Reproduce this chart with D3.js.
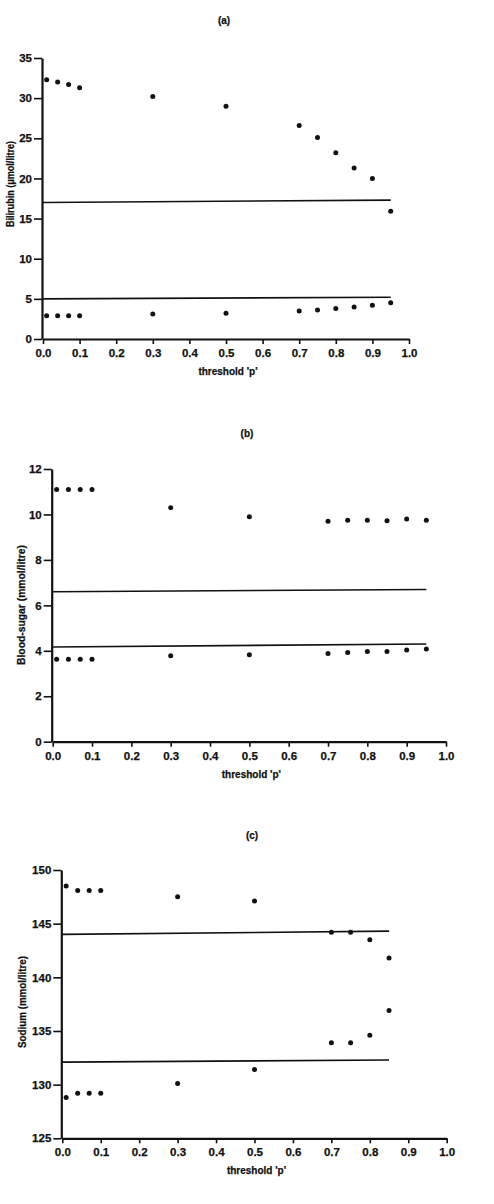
<!DOCTYPE html>
<html>
<head>
<meta charset="utf-8">
<script src="https://cdn.jsdelivr.net/npm/d3@7"></script>
<style>
  body { margin: 0; background: #fff; }
  svg { display: block; }
  text { font-family: "Liberation Sans", Arial, sans-serif; font-weight: bold; fill: #111; stroke: #111; stroke-width: 0.25px; }
</style>
</head>
<body>
<div id="vis"></div>
<script>
const WIDTH = 494;
const HEIGHT = 1204;

// threshold p values
const P_AB = [0.01, 0.04, 0.07, 0.1, 0.3, 0.5, 0.7, 0.75, 0.8, 0.85, 0.9, 0.95];
const P_C = [0.01, 0.04, 0.07, 0.1, 0.3, 0.5, 0.7, 0.75, 0.8, 0.85];

// (a) bilirubin
const BILI_UPPER = [32.3, 32.0, 31.7, 31.3, 30.2, 29.0, 26.6, 25.1, 23.2, 21.3, 20.0, 15.9];
const BILI_LOWER = [2.9, 2.9, 2.9, 2.9, 3.1, 3.2, 3.5, 3.6, 3.8, 4.0, 4.2, 4.5];
const BILI_LIMITS = [[[0, 17.0], [0.95, 17.3]], [[0, 5.0], [0.95, 5.2]]];
const BILI_TICKS = [0, 5, 10, 15, 20, 25, 30, 35];

// (b) blood-sugar
const SUGAR_UPPER = [11.1, 11.1, 11.1, 11.1, 10.3, 9.9, 9.7, 9.75, 9.75, 9.72, 9.8, 9.75];
const SUGAR_LOWER = [3.63, 3.63, 3.63, 3.63, 3.78, 3.83, 3.88, 3.92, 3.97, 3.97, 4.04, 4.08];
const SUGAR_LIMITS = [[[0, 6.6], [0.95, 6.7]], [[0, 4.17], [0.95, 4.3]]];
const SUGAR_TICKS = [0, 2, 4, 6, 8, 10, 12];

// (c) sodium
const SODIUM_UPPER = [148.5, 148.1, 148.1, 148.1, 147.5, 147.1, 144.2, 144.2, 143.5, 141.8];
const SODIUM_LOWER = [128.8, 129.2, 129.2, 129.2, 130.1, 131.4, 133.9, 133.9, 134.6, 136.9];
const SODIUM_LIMITS = [[[0, 144.0], [0.85, 144.3]], [[0, 132.1], [0.85, 132.3]]];
const SODIUM_TICKS = [125, 130, 135, 140, 145, 150];

const X_TICKS = [0, 0.1, 0.2, 0.3, 0.4, 0.5, 0.6, 0.7, 0.8, 0.9, 1.0];

const SVG = d3.select("#vis").append("svg")
  .attr("width", WIDTH)
  .attr("height", HEIGHT);

const paneles = [
  {
    titulo: "(a)", tituloX: 224, tituloY: 24,
    etiquetaY: "Bilirubin (\u03bcmol/litre)", etiqX: 10, etiqY: 184, etiqLen: 86,
    x0: 43, x1: 409, yTop: 58, yBottom: 339,
    dominio: [0, 35], ticks: BILI_TICKS,
    p: P_AB, upper: BILI_UPPER, lower: BILI_LOWER, limites: BILI_LIMITS
  },
  {
    titulo: "(b)", tituloX: 247, tituloY: 437,
    etiquetaY: "Blood-sugar (mmol/litre)", etiqX: 21, etiqY: 605, etiqLen: 120,
    x0: 52.7, x1: 446, yTop: 469, yBottom: 741.7,
    dominio: [0, 12], ticks: SUGAR_TICKS,
    p: P_AB, upper: SUGAR_UPPER, lower: SUGAR_LOWER, limites: SUGAR_LIMITS
  },
  {
    titulo: "(c)", tituloX: 252, tituloY: 839,
    etiquetaY: "Sodium (mmol/litre)", etiqX: 22, etiqY: 1002, etiqLen: 92,
    x0: 62.3, x1: 446.7, yTop: 870, yBottom: 1138.3,
    dominio: [125, 150], ticks: SODIUM_TICKS,
    p: P_C, upper: SODIUM_UPPER, lower: SODIUM_LOWER, limites: SODIUM_LIMITS
  }
];

paneles.forEach(panel => crearPanel(panel));

function crearPanel(panel) {
  const g = SVG.append("g");

  const escalaX = d3.scaleLinear()
    .domain([0, 1])
    .range([panel.x0, panel.x1]);

  const escalaY = d3.scaleLinear()
    .domain(panel.dominio)
    .range([panel.yBottom, panel.yTop]);

  const ejeX = d3.axisBottom(escalaX)
    .tickValues(X_TICKS)
    .tickFormat(d3.format(".1f"))
    .tickSize(5)
    .tickSizeOuter(0)
    .tickPadding(5);

  const ejeY = d3.axisLeft(escalaY)
    .tickValues(panel.ticks)
    .tickFormat(d3.format("d"))
    .tickSize(8)
    .tickSizeOuter(0)
    .tickPadding(2);

  const contEjeX = g.append("g")
    .attr("transform", `translate(0, ${panel.yBottom})`)
    .call(ejeX);

  const contEjeY = g.append("g")
    .attr("transform", `translate(${panel.x0 - 1}, 0)`)
    .call(ejeY);

  [contEjeX, contEjeY].forEach(c => {
    c.select(".domain").attr("stroke", "#111").attr("stroke-width", 2.2);
    c.selectAll(".tick line").attr("stroke", "#111").attr("stroke-width", 1.6);
    c.selectAll(".tick text")
      .attr("fill", "#111")
      .style("font-size", "11.5px")
      .style("font-weight", "bold");
  });

  // limit lines
  const linea = d3.line()
    .x(d => escalaX(d[0]))
    .y(d => escalaY(d[1]));

  g.selectAll(".limite")
    .data(panel.limites)
    .join("path")
    .attr("class", "limite")
    .attr("d", linea)
    .attr("fill", "none")
    .attr("stroke", "#111")
    .attr("stroke-width", 1.6);

  const puntos = panel.p.map((p, i) => ({ p: p, v: panel.upper[i] }))
    .concat(panel.p.map((p, i) => ({ p: p, v: panel.lower[i] })));

  g.selectAll(".point")
    .data(puntos)
    .join("circle")
    .attr("class", "point")
    .attr("cx", d => escalaX(d.p))
    .attr("cy", d => escalaY(d.v))
    .attr("r", 2.5)
    .attr("fill", "#111");

  g.append("text")
    .attr("x", panel.tituloX)
    .attr("y", panel.tituloY)
    .attr("text-anchor", "middle")
    .style("font-size", "10px")
    .text(panel.titulo);

  g.append("text")
    .attr("transform", `translate(${panel.etiqX + 3.5}, ${panel.etiqY}) rotate(-90)`)
    .attr("text-anchor", "middle")
    .attr("textLength", panel.etiqLen)
    .attr("lengthAdjust", "spacingAndGlyphs")
    .style("font-size", "10px")
    .text(panel.etiquetaY);

  g.append("text")
    .attr("x", (panel.x0 + panel.x1) / 2 + 2)
    .attr("y", panel.yBottom + 36)
    .attr("text-anchor", "middle")
    .style("font-size", "10px")
    .text("threshold 'p'");
}
</script>
</body>
</html>
